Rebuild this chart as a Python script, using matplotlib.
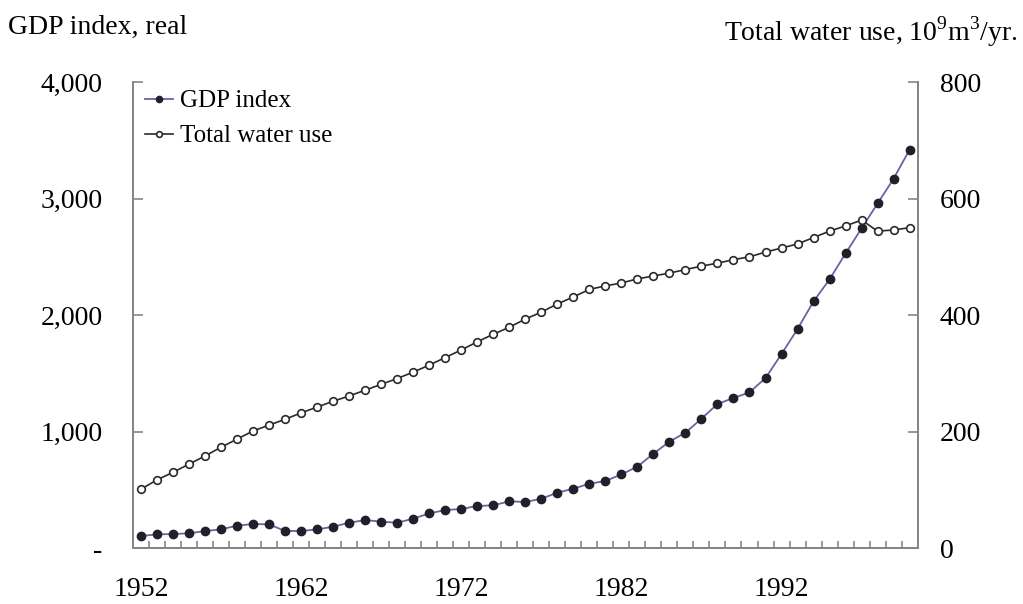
import numpy as np
import matplotlib
matplotlib.use("Agg")
import matplotlib.pyplot as plt
from matplotlib.ticker import FuncFormatter, FixedLocator

plt.rcParams['font.family'] = ['Liberation Serif', 'DejaVu Serif']
plt.rcParams['mathtext.fontset'] = 'custom'
plt.rcParams['mathtext.rm'] = 'Liberation Serif'

years = list(range(1952, 2001))

# real GDP index (left axis)
gdp_index = [103, 117, 120, 126, 146, 160, 192, 206, 203, 146,
             146, 160, 183, 217, 240, 226, 217, 252, 297, 326,
             335, 361, 366, 401, 395, 423, 475, 509, 552, 575,
             632, 698, 810, 913, 990, 1110, 1236, 1288, 1336, 1459,
             1665, 1880, 2117, 2306, 2529, 2744, 2958, 3170, 3420]

# total water use, 10^9 m3/yr (right axis)
water_use = [101, 117, 130, 144, 158, 173, 187, 201, 211, 221,
             232, 242, 252, 261, 271, 281, 291, 302, 314, 327,
             340, 354, 367, 379, 393, 405, 419, 431, 444, 450,
             455, 462, 467, 472, 478, 484, 489, 495, 500, 508,
             515, 522, 533, 544, 553, 563, 544, 546, 550]

year_labels = ['1952', '1962', '1972', '1982', '1992']

spine_col = '#868686'
fs_tick = 20

fig = plt.figure(figsize=(10.23, 6.04), dpi=100)
ax = fig.add_axes([0.130, 0.0927, 0.767, 0.7715])
ax2 = ax.twinx()

x = np.arange(len(years))
l1, = ax.plot(x, gdp_index, color='#6464a8', lw=1.3, marker='o', ms=6,
              mfc='#202028', mec='#202028', label='GDP index')
l2, = ax2.plot(x, water_use, color='#2a2a2a', lw=1.2, marker='o', ms=5.5,
               mfc='white', mec='#2a2a2a', mew=1.2, label='Total water use')

ax.set_xlim(-0.5, len(years) - 0.5)
ax.set_ylim(0, 4000)
ax2.set_ylim(0, 800)

ax.set_yticks([0, 1000, 2000, 3000, 4000])
ax.yaxis.set_major_formatter(FuncFormatter(lambda v, p: '-' if v == 0 else f'{int(v):,}'))
ax2.set_yticks([0, 200, 400, 600, 800])

label_pos = [years.index(int(y)) for y in year_labels]
ax.set_xticks(label_pos)
ax.set_xticklabels(year_labels)
ax.xaxis.set_minor_locator(FixedLocator(np.arange(-0.5, len(years), 1)))

for a in (ax, ax2):
    a.spines['top'].set_visible(False)
    for side in ('left', 'right', 'bottom'):
        a.spines[side].set_color(spine_col)
        a.spines[side].set_linewidth(1.4)

ax.tick_params(axis='x', which='major', length=0, pad=21, labelsize=fs_tick)
ax.tick_params(axis='x', which='minor', direction='in', length=5, width=1.2, color=spine_col)
ax.tick_params(axis='y', direction='in', length=7, width=1.2, color=spine_col, pad=22, labelsize=fs_tick)
ax2.tick_params(axis='y', direction='in', length=7, width=1.2, color=spine_col, pad=16, labelsize=fs_tick)

fig.text(0.008, 0.955, 'GDP index, real', fontsize=20, va='center', ha='left')
fig.text(0.995, 0.947, r'Total water use, 10$^9$m$^3$/yr.', fontsize=20, va='center', ha='right')

ax2.legend(handles=[l1, l2], loc='upper left', bbox_to_anchor=(0.142, 0.851),
           bbox_transform=fig.transFigure, frameon=False, fontsize=18,
           handlelength=1.1, handletextpad=0.3, labelspacing=0.5,
           borderpad=0, borderaxespad=0, markerscale=0.75)

fig.savefig('out.png', dpi=100)
